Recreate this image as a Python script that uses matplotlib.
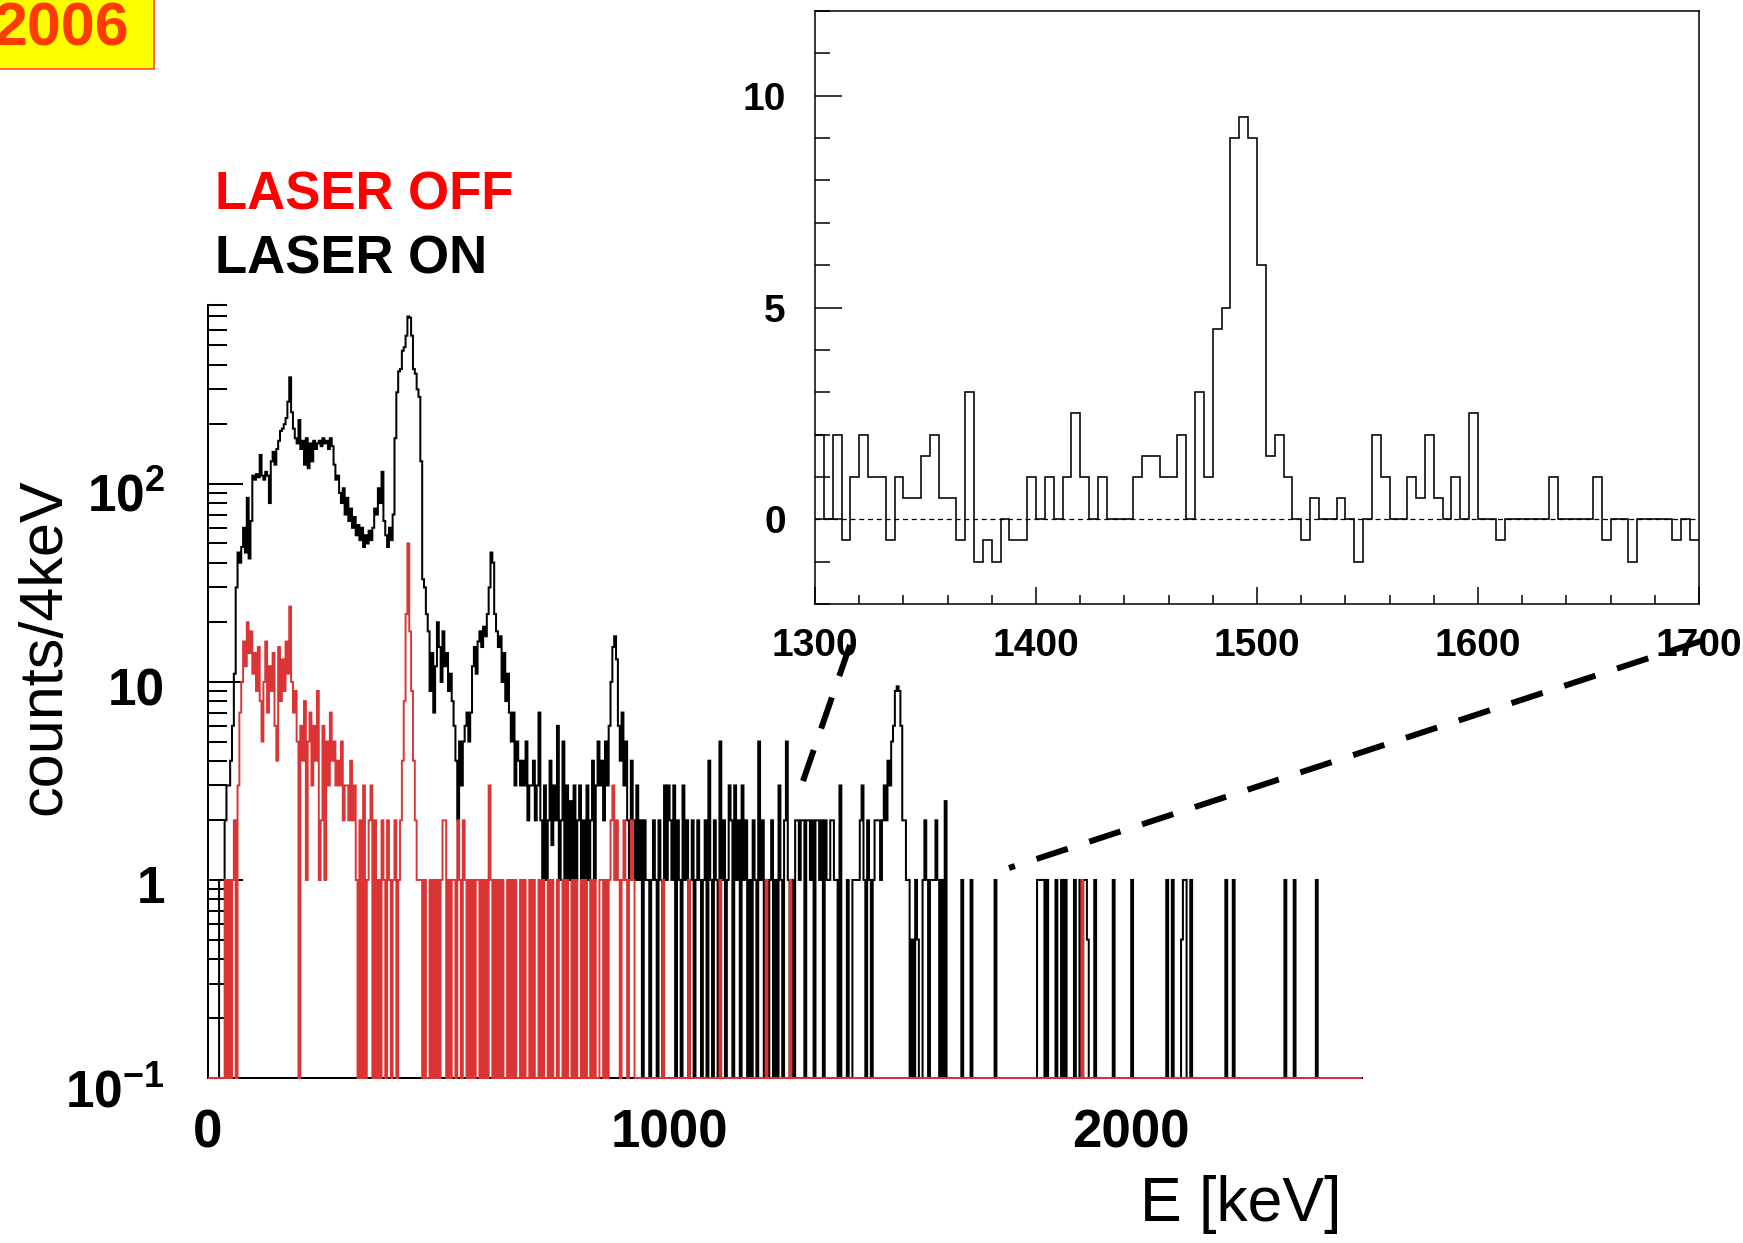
import matplotlib
matplotlib.use('Agg')
import matplotlib.pyplot as plt
import numpy as np
from matplotlib.lines import Line2D
from matplotlib.patches import Rectangle
from matplotlib.ticker import LogLocator, NullFormatter, MultipleLocator
from matplotlib.transforms import ScaledTranslation

plt.rcParams['font.family'] = ['Liberation Sans', 'DejaVu Sans']
plt.rcParams['mathtext.fontset'] = 'custom'
plt.rcParams['mathtext.rm'] = 'Liberation Sans'
plt.rcParams['mathtext.bf'] = 'Liberation Sans:bold'

# spectrum, 4 keV bins from 0 to 2500 keV (one row = 100 keV)
bin_width = 4
e_max = 2500

on_counts = [
    0, 0, 0, 0, 0, 0, 1, 1, 1, 2, 3, 3, 4, 6, 11, 30, 45, 40, 48, 60, 45, 85, 42, 65, 110,            # 0
    105, 112, 108, 140, 110, 105, 115, 110, 80, 130, 145, 125, 150, 165, 185, 190, 200, 215, 260, 345, 230, 190, 170, 160, 210,  # 100
    150, 165, 125, 170, 120, 160, 130, 165, 150, 160, 165, 155, 170, 160, 165, 150, 170, 155, 125, 105, 110, 90, 80, 95, 70,     # 200
    85, 65, 75, 60, 68, 55, 62, 52, 60, 48, 55, 50, 58, 52, 60, 75, 70, 95, 80, 115, 65, 55, 48, 60, 52,     # 300
    70, 170, 290, 370, 380, 470, 490, 560, 700, 690, 560, 380, 360, 300, 275, 130, 33, 30, 22, 18, 9, 14, 7, 12, 20,  # 400
    15, 10, 18, 12, 14, 9, 11, 8, 6, 4, 2, 5, 3, 5, 6, 7, 5, 7, 12, 15, 11, 16, 18, 15, 19,    # 500
    17, 22, 30, 45, 40, 22, 18, 15, 17, 10, 14, 8, 11, 7, 5, 7, 3, 5, 4, 3, 4, 3, 5, 2, 3,     # 600
    3, 4, 2, 3, 7, 2, 1, 3, 1, 2, 4, 1.5, 3, 2, 6, 1, 2, 5, 0, 3, 1, 2.5, 0, 3, 1,             # 700
    2, 3, 1, 2, 0, 3, 1, 2, 4, 1, 3, 5, 3, 4, 2, 5, 3, 6, 10, 15, 17, 13, 6, 4, 7,             # 800
    3, 5, 2, 1, 4, 2, 1, 3, 1, 2, 0, 2, 1, 1, 0, 1, 2, 1, 0, 2, 1, 0, 3, 1, 3,                 # 900
    2, 1, 3, 0, 2, 1, 0, 3, 1, 2, 0, 1, 2, 0, 1, 2, 1, 0, 1, 2, 0, 4, 1, 0, 2,                 # 1000
    1, 0, 5, 1, 2, 0, 1, 3, 2, 0, 3, 1, 2, 0, 3, 1, 2, 0, 1, 0, 2, 1, 0, 5, 1,                 # 1100
    2, 0, 1, 0, 1, 2, 0, 1, 0, 3, 1, 0, 2, 5, 1, 0, 1, 0, 2, 2, 1, 2, 2, 0, 2,                 # 1200
    2, 1, 2, 0, 2, 2, 1, 2, 0, 2, 1, 1, 2, 2, 1, 1, 0, 3, 0, 0, 0, 1, 0, 0, 1,                 # 1300
    1, 1, 1, 2, 3, 1, 0, 2, 1, 0, 1, 2, 2, 2, 1, 2, 3, 2, 4, 3, 5, 6, 9, 9.5, 9,               # 1400
    6, 2, 2, 1, 1, 0, 0.5, 0, 1, 0.5, 0, 0, 1, 2, 1, 0, 1, 1, 1, 2, 1, 0, 1, 0, 2.5,           # 1500
    0, 0, 0, 0, 0, 0, 0, 0, 1, 0, 0, 0, 0, 1, 0, 0, 0, 0, 0, 0, 0, 0, 0, 0, 0,                 # 1600
    0, 1, 0, 0, 0, 0, 0, 0, 0, 0, 0, 0, 0, 0, 0, 0, 0, 0, 0, 0, 0, 0, 0, 0, 1,                 # 1700
    1, 1, 1, 0, 1, 0, 0, 0, 0, 1, 0, 0, 1, 0, 1, 0, 0, 0, 0, 1, 0, 0, 1, 0, 1,                 # 1800
    1, 0.5, 0, 0, 0, 1, 0, 0, 0, 0, 0, 0, 0, 0, 0, 1, 0, 0, 0, 0, 0, 0, 0, 0, 0,               # 1900
    1, 0, 0, 0, 0, 0, 0, 0, 0, 0, 0, 0, 0, 0, 0, 0, 0, 0, 0, 1, 0, 0, 1, 0, 0,                 # 2000
    0, 0, 0.5, 1, 1, 0, 0, 1, 0, 0, 0, 0, 0, 0, 0, 0, 0, 0, 0, 0, 0, 0, 0, 0, 0,               # 2100
    0, 1, 0, 0, 0, 1, 0, 0, 0, 0, 0, 0, 0, 0, 0, 0, 0, 0, 0, 0, 0, 0, 0, 0, 0,                 # 2200
    0, 0, 0, 0, 0, 0, 0, 0, 1, 0, 0, 0, 0, 1, 0, 0, 0, 0, 0, 0, 0, 0, 0, 0, 0,                 # 2300
    1, 0, 0, 0, 0, 0, 0, 0, 0, 0, 0, 0, 0, 0, 0, 0, 0, 0, 0, 0, 0, 0, 0, 0, 0,                 # 2400
]

off_counts = [
    0, 0, 0, 0, 0, 0, 0, 0, 0, 1, 0, 1, 0, 1, 2, 0, 3, 7, 10, 16, 12, 20, 14, 18, 11,          # 0
    14, 9, 15, 8, 5, 10, 16, 7, 12, 9, 14, 6, 4, 15, 8, 13, 9, 16, 11, 24, 10, 7, 9, 5, 0,     # 100
    6, 4, 8, 1, 5, 7, 3, 6, 4, 9, 1, 2, 6, 1, 5, 3, 7, 4, 5, 3, 4, 3, 5, 2, 3,                 # 200
    3, 2, 4, 2, 3, 1, 0, 2, 0, 3, 0, 1, 2, 3, 0, 2, 0, 1, 0, 2, 1, 0, 2, 1, 0,                 # 300
    1, 2, 0, 1, 2, 4, 8, 22, 50, 18, 9, 4, 2, 1, 1, 1, 0, 1, 0, 0, 1, 0, 1, 0, 1,              # 400
    0, 1, 2, 2, 0, 1, 0, 1, 1, 0, 2, 1, 0, 2, 1, 0, 1, 0, 1, 0, 1, 1, 0, 1, 0,                 # 500
    1, 0, 3, 1, 0, 1, 0, 1, 0, 1, 0, 0, 1, 0, 1, 0, 1, 0, 0, 1, 0, 1, 0, 0, 1,                 # 600
    0, 1, 0, 0, 1, 0, 1, 0, 0, 1, 0, 1, 0, 0, 1, 0, 0, 1, 0, 1, 0, 0, 1, 0, 1,                 # 700
    0, 0, 1, 0, 1, 0, 0, 1, 0, 1, 0, 0, 1, 1, 0, 1, 0, 1, 2, 3, 1, 2, 1, 0, 1,                 # 800
    2, 1, 0, 1, 2, 1, 0, 0, 0, 0, 0, 0, 0, 0, 0, 0, 0, 0, 0, 0, 0, 1, 0, 0, 0,                 # 900
    0, 0, 0, 0, 0, 0, 0, 0, 0, 0, 1, 0, 0, 0, 0, 0, 0, 0, 0, 0, 0, 0, 0, 0, 0,                 # 1000
    0, 0, 1, 0, 0, 0, 0, 0, 0, 0, 0, 0, 0, 0, 0, 0, 0, 0, 0, 0, 0, 0, 0, 0, 0,                 # 1100
    0, 0, 1, 0, 0, 0, 0, 0, 0, 0, 0, 0, 0, 0, 0, 1, 0, 0, 0, 0, 0, 0, 0, 0, 0,                 # 1200
    0, 0, 0, 0, 0, 0, 0, 0, 0, 0, 0, 0, 0, 0, 0, 0, 0, 0, 0, 0, 0, 0, 0, 0, 0,                 # 1300
    0, 0, 0, 0, 0, 0, 0, 0, 0, 0, 0, 0, 0, 0, 0, 0, 0, 0, 0, 0, 0, 0, 0, 0, 0,                 # 1400
    0, 0, 0, 0, 0, 0, 0, 0, 0, 0, 0, 0, 0, 0, 0, 0, 0, 0, 0, 0, 0, 0, 0, 0, 0,                 # 1500
    0, 0, 0, 0, 0, 0, 0, 0, 0, 0, 0, 0, 0, 0, 0, 0, 0, 0, 0, 0, 0, 0, 0, 0, 0,                 # 1600
    0, 0, 0, 0, 0, 0, 0, 0, 0, 0, 0, 0, 0, 0, 0, 0, 0, 0, 0, 0, 0, 0, 0, 0, 0,                 # 1700
    0, 0, 0, 0, 0, 0, 0, 0, 0, 0, 0, 0, 0, 0, 0, 0, 0, 0, 0, 0, 0, 0, 0, 1, 0,                 # 1800
    0, 0, 0, 0, 0, 0, 0, 0, 0, 0, 0, 0, 0, 0, 0, 0, 0, 0, 0, 0, 0, 0, 0, 0, 0,                 # 1900
    0, 0, 0, 0, 0, 0, 0, 0, 0, 0, 0, 0, 0, 0, 0, 0, 0, 0, 0, 0, 0, 0, 0, 0, 0,                 # 2000
    0, 0, 0, 0, 0, 0, 0, 0, 0, 0, 0, 0, 0, 0, 0, 0, 0, 0, 0, 0, 0, 0, 0, 0, 0,                 # 2100
    0, 0, 0, 0, 0, 0, 0, 0, 0, 0, 0, 0, 0, 0, 0, 0, 0, 0, 0, 0, 0, 0, 0, 0, 0,                 # 2200
    0, 0, 0, 0, 0, 0, 0, 0, 0, 0, 0, 0, 0, 0, 0, 0, 0, 0, 0, 0, 0, 0, 0, 0, 0,                 # 2300
    0, 0, 0, 0, 0, 0, 0, 0, 0, 0, 0, 0, 0, 0, 0, 0, 0, 0, 0, 0, 0, 0, 0, 0, 0,                 # 2400
]

# zoomed difference spectrum 1300-1700 keV, 4 keV bins
inset_lo = 1300
inset_hi = 1700
inset_diff = [
    2, 0, 2, -0.5, 1, 2, 1, 1, -0.5, 1,
    0.5, 0.5, 1.5, 2, 0.5, 0.5, -0.5, 3, -1, -0.5,
    -1, 0, -0.5, -0.5, 1, 0, 1, 0, 1, 2.5,
    1, 0, 1, 0, 0, 0, 1, 1.5, 1.5, 1,
    1, 2, 0, 3, 1, 4.5, 5, 9, 9.5, 9,
    6, 1.5, 2, 1, 0, -0.5, 0.5, 0, 0, 0.5,
    0, -1, 0, 2, 1, 0, 0, 1, 0.5, 2,
    0.5, 0, 1, 0, 2.5, 0, 0, -0.5, 0, 0,
    0, 0, 0, 1, 0, 0, 0, 0, 1, -0.5,
    0, 0, -1, 0, 0, 0, 0, -0.5, 0, -0.5,
]

main_xticks = [0, 1000, 2000]
main_yticks = [0.1, 1, 10, 100]
main_ylabels = [r'$\mathbf{10^{-1}}$', '1', '10', r'$\mathbf{10^{2}}$']
inset_xticks = [1300, 1400, 1500, 1600, 1700]
inset_yticks = [0, 5, 10]

W, H = 1743, 1243
def fx(px):
    return px / W
def fy(py):
    return 1 - py / H

fig = plt.figure(figsize=(W / 100, H / 100), dpi=100)

# main spectrum
ax = fig.add_axes([fx(208), fy(1078), fx(1362) - fx(208), fy(305) - fy(1078)])
ymin, ymax = 0.1, 800
edges = np.arange(0, e_max + bin_width, bin_width)
on = np.array(on_counts, dtype=float)
off = np.array(off_counts, dtype=float)
# empty bins are drawn on the bottom of the frame, as ROOT does
ax.stairs(np.where(on > 0, on, ymin), edges, baseline=None, color='black', lw=1.45, zorder=3, clip_on=False)
ax.stairs(np.where(off > 0, off, ymin), edges, baseline=None, color='#db3434', lw=1.4, zorder=4, clip_on=False)
ax.set_yscale('log')
ax.set_xlim(0, e_max)
ax.set_ylim(ymin, ymax)
ax.spines['top'].set_visible(False)
ax.spines['right'].set_visible(False)
ax.spines['left'].set_linewidth(1.45)
ax.spines['bottom'].set_linewidth(1.45)
ax.spines['bottom'].set_zorder(1)

ax.set_xticks(main_xticks, [str(t) for t in main_xticks], fontsize=38, fontweight='bold')
ax.set_yticks(main_yticks, main_ylabels, fontsize=37, fontweight='bold')
ax.yaxis.set_minor_locator(LogLocator(base=10, subs=np.arange(2, 10)))
ax.yaxis.set_minor_formatter(NullFormatter())
ax.tick_params(axis='x', which='both', length=0, pad=22)
ax.tick_params(axis='y', which='major', direction='in', length=25, width=1.45, pad=31)
ax.tick_params(axis='y', which='minor', direction='in', length=13.5, width=1.45)
# labels sit a little below their ticks in the original
for lab, dy in zip(ax.get_yticklabels(), [-0.10, -0.04, -0.05, -0.08]):
    lab.set_transform(lab.get_transform() + ScaledTranslation(0, dy, fig.dpi_scale_trans))

# inset
axi = fig.add_axes([fx(815), fy(604), fx(1699) - fx(815), fy(11) - fy(604)])
inset_edges = np.arange(inset_lo, inset_hi + bin_width, bin_width)
axi.stairs(inset_diff, inset_edges, baseline=None, color='black', lw=1.15, zorder=3)
axi.axhline(0, color='black', lw=0.9, ls=(0, (4, 3)), zorder=2)
axi.set_xlim(inset_lo, inset_hi)
axi.set_ylim(-2, 12)
axi.set_xticks(inset_xticks, [str(t) for t in inset_xticks], fontsize=28, fontweight='bold')
axi.set_yticks(inset_yticks, [str(t) for t in inset_yticks], fontsize=28, fontweight='bold')
axi.xaxis.set_minor_locator(MultipleLocator(20))
axi.yaxis.set_minor_locator(MultipleLocator(1))
axi.tick_params(axis='x', which='major', direction='in', length=12, width=1.1, pad=17)
axi.tick_params(axis='x', which='minor', direction='in', length=6.5, width=1.1)
axi.tick_params(axis='y', which='major', direction='in', length=19.5, width=1.1, pad=21)
axi.tick_params(axis='y', which='minor', direction='in', length=10.5, width=1.1)
for sp in axi.spines.values():
    sp.set_linewidth(1.1)

# labels
fig.text(fx(45), fy(647), 'counts/4keV', rotation=90, fontsize=44, ha='center', va='center')
fig.text(fx(1342), fy(1204), 'E [keV]', fontsize=45, ha='right', va='center')
fig.text(fx(215), fy(210), 'LASER OFF', color='#ff0000', fontsize=38, fontweight='bold', ha='left', va='baseline')
fig.text(fx(215), fy(274), 'LASER ON', color='black', fontsize=38, fontweight='bold', ha='left', va='baseline')

# year tag
fig.add_artist(Rectangle((fx(-5), fy(69)), fx(154) - fx(-5), fy(-5) - fy(69), transform=fig.transFigure,
                         facecolor='#ffff00', edgecolor='#ff5a2a', lw=1.3))
fig.text(fx(130), fy(45), '2006', color='#ff3c00', fontsize=44, fontweight='bold', ha='right', va='baseline')

# dashed zoom lines
fig.add_artist(Line2D([fx(850), fx(803)], [fy(645), fy(781)], color='black', lw=4.3, ls=(0, (5.5, 3.8))))
fig.add_artist(Line2D([fx(1701), fx(1009)], [fy(641), fy(868)], color='black', lw=4.3, ls=(0, (5.5, 3.8))))

fig.savefig('out.png', dpi=100)
